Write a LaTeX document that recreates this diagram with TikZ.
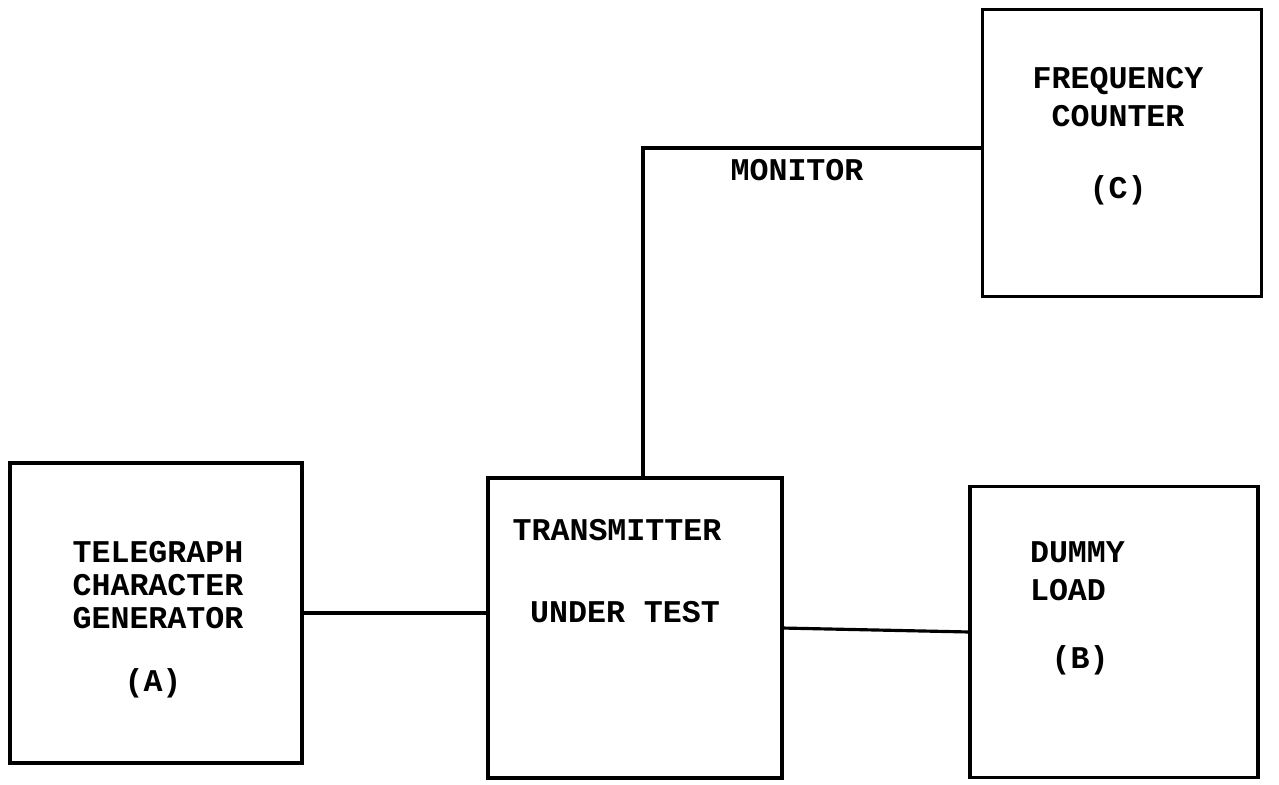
\documentclass[tikz,border=0pt]{standalone}
\usepackage{fontspec}
\setmonofont{Liberation Mono}
\usetikzlibrary{positioning}

\begin{document}
\begin{tikzpicture}[outer sep = 0pt, x=0.01cm, y=-0.01cm, line width=0.9pt]
\tikzstyle{box}=[draw=black, line width=0.9pt, inner sep=0pt]
\tikzstyle{txt}=[inner sep=0pt, font=\ttfamily\bfseries\fontsize{9}{9.4}\selectfont]
    \useasboundingbox (0,0) rectangle (1279,784);
    \node (A) [box, minimum width=292*0.01cm, minimum height=300*0.01cm] at (156,613) {};
    \node (T) [box, minimum width=294*0.01cm, minimum height=300*0.01cm] at (635,628) {};
    \node (B) [box, minimum width=288*0.01cm, minimum height=291*0.01cm] at (1114,632) {};
    \node (C) [box, minimum width=279*0.01cm, minimum height=287*0.01cm] at (1122,153) {};
    % labels
    \node (A-name) [txt, align=center] at (158,585) {TELEGRAPH\\CHARACTER\\GENERATOR};
    \node (A-tag) [txt] at (153,683) {(A)};
    \node (T-top) [txt] at (617,530) {TRANSMITTER};
    \node (T-bot) [txt] at (625,612) {UNDER TEST};
    \node (B-name) [txt, align=left, anchor=west, font=\ttfamily\bfseries\fontsize{9}{10.8}\selectfont] at (1030,571) {DUMMY\\LOAD};
    \node (B-tag) [txt] at (1080,660) {(B)};
    \node (C-name) [txt, align=center, font=\ttfamily\bfseries\fontsize{9}{11}\selectfont] at (1118,97) {FREQUENCY\\COUNTER};
    \node (C-tag) [txt] at (1118,190) {(C)};
    \node (mon) [txt] at (797,170) {MONITOR};
    % wiring
    \draw (A.east) -- (A.east -| T.west);
    \draw (T.east) -- (B.west);
    \draw ([xshift=0.08cm]T.north) |- ([yshift=0.05cm]C.west);
\end{tikzpicture}
\end{document}
